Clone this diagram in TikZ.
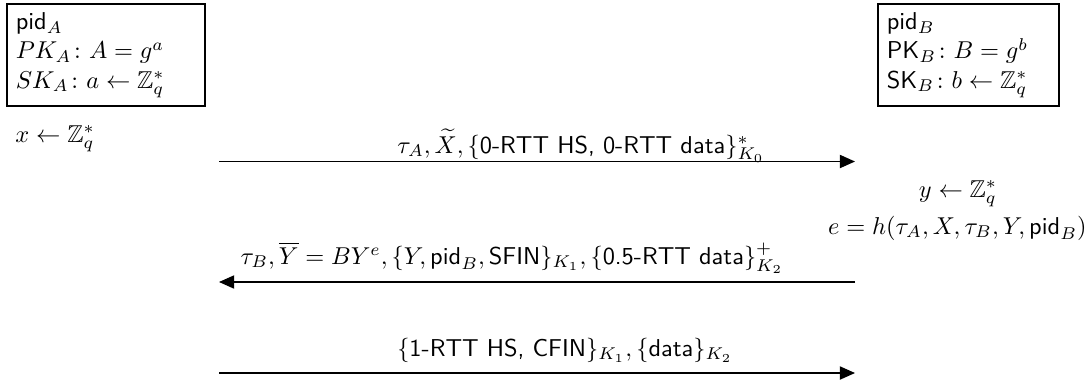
\documentclass[tikz,border=0pt]{standalone}
\usepackage{amsmath,amssymb}
\usetikzlibrary{arrows.meta}
\begin{document}
\begin{tikzpicture}[x=0.41pt,y=-0.41pt,
  party/.style={draw, line width=0.8pt, anchor=north west, align=left, inner sep=3.6pt},
  msg/.style={-{Triangle[length=6.2pt,width=5.4pt]}, line width=0.55pt},
  lbl/.style={inner sep=0pt}]
\useasboundingbox (0,0) rectangle (1091,381);
% parties
\node[party, text width=74pt, minimum height=41.6pt] (A) at (6,3)
  {\textsf{pid}$_A$\\ $PK_A\colon A=g^a$\\ $SK_A\colon a\leftarrow\mathbb{Z}_q^*$};
\node[party, text width=67pt, minimum height=41.2pt] (B) at (877,3)
  {\textsf{pid}$_B$\\ $\textsf{PK}_B\colon B=g^b$\\ $\textsf{SK}_B\colon b\leftarrow\mathbb{Z}_q^*$};
% local computations
\node[lbl, anchor=base west] (xa) at (15,142) {$x\leftarrow\mathbb{Z}_q^*$};
\node[lbl, anchor=base] (yb) at (958,197) {$y\leftarrow\mathbb{Z}_q^*$};
\node[lbl, anchor=base east] (eb) at (1087,234) {$e=h(\tau_A,X,\tau_B,Y,\textsf{pid}_B)$};
% message endpoints
\coordinate (m1s) at (219,161.5);
\coordinate (m1e) at (855,161.5);
\coordinate (m2s) at (855,282);
\coordinate (m2e) at (219,282);
\coordinate (m3s) at (219,373);
\coordinate (m3e) at (855,373);
\draw[msg] (m1s) -- (m1e);
\draw[msg] (m2s) -- (m2e);
\draw[msg] (m3s) -- (m3e);
% labels
\node[lbl, anchor=base] (l1) at (581,153)
  {$\tau_A,\widetilde{X},\{\textsf{0-RTT HS, 0-RTT data}\}^*_{K_0}$};
\node[lbl, anchor=base] (l2) at (512,264)
  {$\tau_B,\overline{Y}=BY^e,\{Y,\textsf{pid}_B,\textsf{SFIN}\}_{K_1},\{\textsf{0.5-RTT data}\}^+_{K_2}$};
\node[lbl, anchor=base] (l3) at (565,356)
  {$\{\textsf{1-RTT HS, CFIN}\}_{K_1},\{\textsf{data}\}_{K_2}$};
\end{tikzpicture}
\end{document}
